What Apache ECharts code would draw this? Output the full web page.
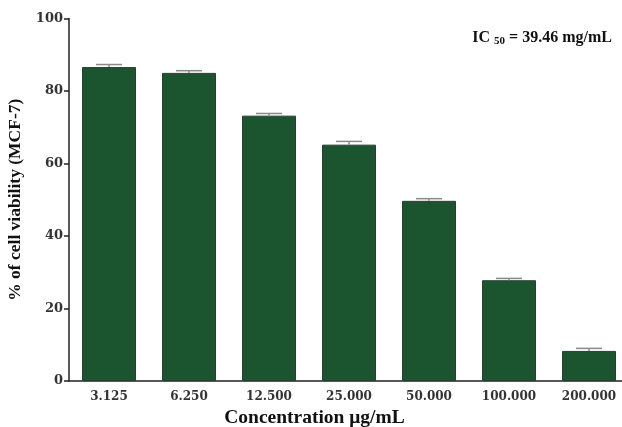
<!DOCTYPE html>
<html><head><meta charset="utf-8">
<script src="https://cdn.jsdelivr.net/npm/echarts@6/dist/echarts.min.js"></script>
<style>html,body{margin:0;padding:0;background:#fff}#c{width:622px;height:427px}</style>
</head><body><div id="c"></div>
<script>
const categories = ['3.125','6.250','12.500','25.000','50.000','100.000','200.000'];
const viability = [86.6, 85.0, 73.2, 65.2, 49.7, 27.8, 8.3];
const errors = [0.7, 0.6, 0.6, 0.9, 0.6, 0.5, 0.7];
const yTicks = [0, 20, 40, 60, 80, 100];

const chart = echarts.init(document.getElementById('c'));
const serif = '"Liberation Serif", "DejaVu Serif", serif';
chart.setOption({
  animation: false,
  backgroundColor: '#fff',
  grid: {left: 69, top: 18.5, width: 560, height: 362.5, containLabel: false, outerBoundsMode: 'none'},
  title: {
    text: '{b|IC }{s|50}{r| = 39.46 mg/mL}',
    right: 5, top: 23,
    textStyle: {rich: {
      b: {fontFamily: serif, fontWeight: 'bold', fontSize: 16, color: '#111'},
      s: {fontFamily: serif, fontWeight: 'bold', fontSize: 11, color: '#111', padding: [8,0,0,0]},
      r: {fontFamily: serif, fontSize: 16, color: '#111'}
    }}
  },
  xAxis: {
    type: 'category', data: categories,
    name: 'Concentration μg/mL', nameLocation: 'middle', nameGap: 26,
    nameTextStyle: {fontFamily: serif, fontWeight: 'bold', fontSize: 19.5, color: '#111', padding: [0,69,0,0]},
    axisLine: {lineStyle: {color: '#222', width: 1.5}},
    axisTick: {alignWithLabel: true, length: 5, lineStyle: {color: '#222', width: 1.5}},
    axisLabel: {fontFamily: '"DejaVu Serif", serif', fontWeight: 'bold', fontSize: 12, color: '#333', margin: 10}
  },
  yAxis: {
    type: 'value', min: 0, max: 100, interval: 20,
    name: '% of cell viability (MCF-7)', nameLocation: 'middle', nameGap: 44,
    nameTextStyle: {fontFamily: serif, fontWeight: 'bold', fontSize: 17.5, color: '#111'},
    splitLine: {show: false},
    axisLine: {show: true, lineStyle: {color: '#222', width: 1.5}},
    axisTick: {show: true, length: 5, lineStyle: {color: '#222', width: 1.5}},
    axisLabel: {fontFamily: '"DejaVu Serif", serif', fontWeight: 'bold', fontSize: 13, color: '#333', margin: 6,
      formatter: v => yTicks.includes(v) ? String(v) : ''}
  },
  series: [
    {
      type: 'bar', data: viability, barWidth: 54,
      itemStyle: {color: '#1b5530', borderColor: '#2b3d30', borderWidth: 1}
    },
    {
      type: 'custom', z: 3,
      data: viability.map((v, i) => [i, v, errors[i]]),
      renderItem: (params, api) => {
        const i = api.value(0), v = api.value(1), e = api.value(2);
        const top = api.coord([i, v + e]);
        const mid = api.coord([i, v]);
        const hw = 13;
        const style = {stroke: '#8a8a8a', lineWidth: 1.5};
        return {type: 'group', children: [
          {type: 'line', shape: {x1: top[0], y1: top[1], x2: mid[0], y2: mid[1]}, style},
          {type: 'line', shape: {x1: top[0]-hw, y1: top[1], x2: top[0]+hw, y2: top[1]}, style}
        ]};
      }
    }
  ]
});
</script></body></html>
